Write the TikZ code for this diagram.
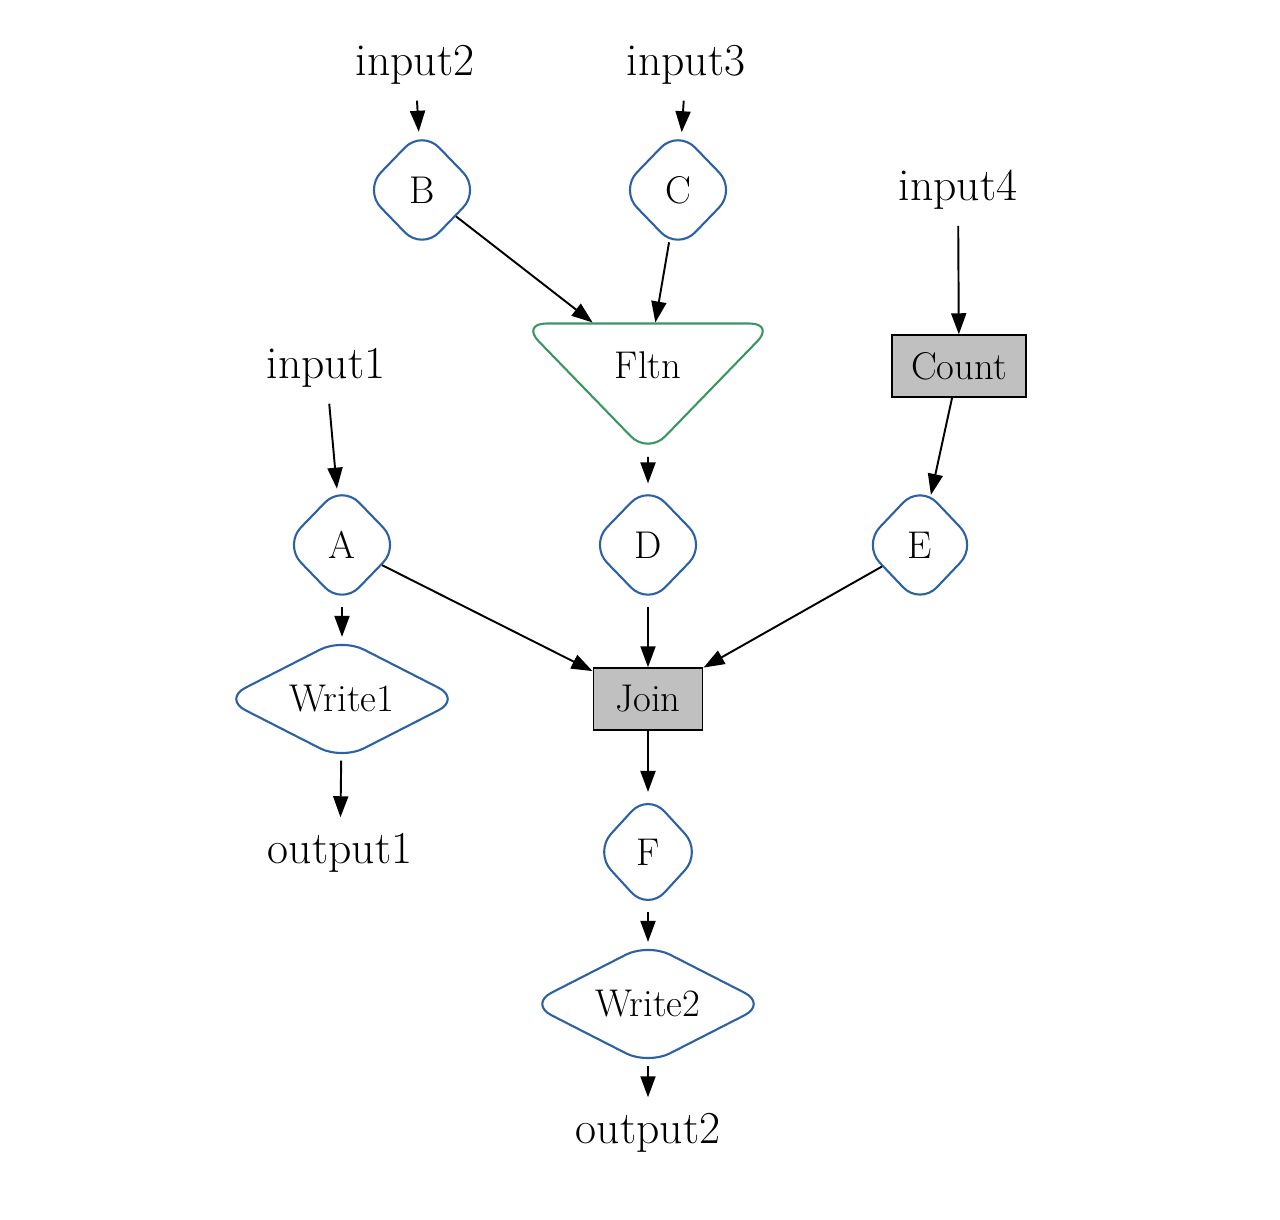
\documentclass[tikz,border=0pt]{standalone}
\usetikzlibrary{shapes.geometric,arrows.meta}
\definecolor{flowblue}{RGB}{44,98,164}
\definecolor{flowgreen}{RGB}{58,150,100}
\definecolor{boxgray}{RGB}{192,192,192}
\tikzset{
  iolabel/.style={inner xsep=2pt, inner ysep=9pt, font=\fontsize{26}{30}\selectfont},
  pipe/.style={diamond, draw=flowblue, line width=1.2pt, rounded corners=14pt, inner sep=0pt,
    minimum width=2.34cm, minimum height=2.42cm, font=\fontsize{22}{26}\selectfont},
  sink/.style={pipe, shape aspect=1.92, minimum width=4.76cm, minimum height=2.44cm},
  fltnshape/.style={isosceles triangle, shape border rotate=270, isosceles triangle stretches,
    draw=flowgreen, line width=1.2pt, rounded corners=14pt, inner sep=0pt,
    minimum width=5.06cm, minimum height=2.61cm, font=\fontsize{22}{26}\selectfont},
  opbox/.style={rectangle, draw, fill=boxgray, line width=1.1pt, minimum height=1.23cm,
    font=\fontsize{22}{26}\selectfont},
  flow/.style={line width=1.1pt, -{Triangle[length=0.42cm,width=0.3cm]}},
}
\begin{document}
\begin{tikzpicture}
	%%%%% START %%%%%
	\useasboundingbox (0, 0) rectangle (25.6, 24.4);
	
	\node[iolabel] (input2) at (8.3, 23.1) {input2};
	\node[iolabel] (input3) at (13.72, 23.1) {input3};
	\node[iolabel] (input4) at (19.16, 20.6) {input4};
	\node[iolabel] (input1) at (6.52, 17.04) {input1};
	
	\node[pipe] (B) at (8.44, 20.6) {B};
	\node[pipe] (C) at (13.56, 20.6) {C};
	
	\node[fltnshape] (Fltn) at (12.96, 17.09) {Fltn};
	\node[opbox, minimum width=2.68cm] (Count) at (19.18, 17.08) {Count};
	
	\node[pipe] (A) at (6.84, 13.5) {A};
	\node[pipe] (D) at (12.96, 13.5) {D};
	\node[pipe, minimum width=2.3cm] (E) at (18.4, 13.5) {E};
	
	\node[sink] (Write1) at (6.84, 10.42) {Write1};
	\node[opbox, minimum width=2.18cm] (Join) at (12.96, 10.42) {Join};
	
	\node[iolabel] (output1) at (6.8, 7.34) {output1};
	\node[pipe, minimum width=2.16cm, minimum height=2.36cm] (F) at (12.96, 7.36) {F};
	\node[sink] (Write2) at (12.96, 4.32) {Write2};
	\node[iolabel] (output2) at (12.96, 1.74) {output2};
	
	\draw[flow] (input2) -- (B);
	\draw[flow] (input3) -- (C);
	\draw[flow] (B) -- (Fltn);
	\draw[flow] (C) -- (Fltn);
	\draw[flow] (input4) -- (Count);
	\draw[flow] (input1) -- (A);
	\draw[flow] (Fltn) -- (D);
	\draw[flow] (Count) -- (E);
	\draw[flow] (A) -- (Write1);
	\draw[flow] (A) -- (Join);
	\draw[flow] (D) -- (Join);
	\draw[flow] (E) -- (Join);
	\draw[flow] (Write1) -- (output1);
	\draw[flow] (Join) -- (F);
	\draw[flow] (F) -- (Write2);
	\draw[flow] (Write2) -- (output2);
	
	%%%%% END %%%%%
\end{tikzpicture}
\end{document}
